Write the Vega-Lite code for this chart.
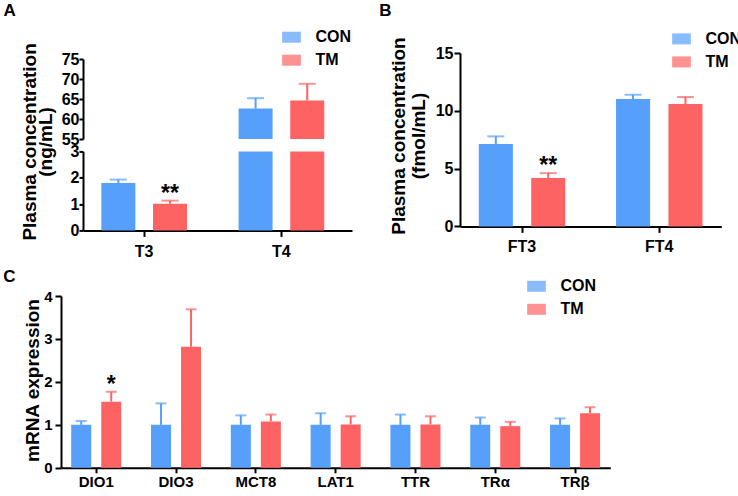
{
  "$schema": "https://vega.github.io/schema/vega-lite/v6.json",
  "background": "white",
  "padding": {"left": 3, "top": 1, "right": 0, "bottom": 0},
  "datasets": {
    "a": [
      {"item": "T3", "group": "CON", "value": 1.80, "err": 1.93},
      {"item": "T3", "group": "TM", "value": 1.01, "err": 1.13, "sig": "**"},
      {"item": "T4", "group": "CON", "value": 62.6, "err": 65.2},
      {"item": "T4", "group": "TM", "value": 64.6, "err": 68.8}
    ],
    "b": [
      {"item": "FT3", "group": "CON", "value": 7.13, "err": 7.79},
      {"item": "FT3", "group": "TM", "value": 4.19, "err": 4.61, "sig": "**"},
      {"item": "FT4", "group": "CON", "value": 11.02, "err": 11.39},
      {"item": "FT4", "group": "TM", "value": 10.59, "err": 11.19}
    ],
    "c": [
      {"item": "DIO1", "group": "CON", "value": 1.00, "err": 1.09},
      {"item": "DIO1", "group": "TM", "value": 1.54, "err": 1.77, "sig": "*"},
      {"item": "DIO3", "group": "CON", "value": 1.00, "err": 1.50},
      {"item": "DIO3", "group": "TM", "value": 2.82, "err": 3.69},
      {"item": "MCT8", "group": "CON", "value": 1.00, "err": 1.22},
      {"item": "MCT8", "group": "TM", "value": 1.08, "err": 1.24},
      {"item": "LAT1", "group": "CON", "value": 1.00, "err": 1.27},
      {"item": "LAT1", "group": "TM", "value": 1.01, "err": 1.20},
      {"item": "TTR", "group": "CON", "value": 1.00, "err": 1.24},
      {"item": "TTR", "group": "TM", "value": 1.01, "err": 1.20},
      {"item": "TRα", "group": "CON", "value": 1.00, "err": 1.17},
      {"item": "TRα", "group": "TM", "value": 0.97, "err": 1.07},
      {"item": "TRβ", "group": "CON", "value": 1.00, "err": 1.15},
      {"item": "TRβ", "group": "TM", "value": 1.27, "err": 1.41}
    ]
  },
  "resolve": {"scale": {"xOffset": "independent"}, "legend": {"color": "independent"}},
  "spacing": 8,
  "vconcat": [
    {
      "resolve": {"scale": {"xOffset": "independent"}, "legend": {"color": "independent"}},
      "spacing": 27,
      "hconcat": [
        {
          "resolve": {"scale": {"xOffset": "independent"}, "legend": {"color": "independent"}},
          "bounds": "flush",
          "spacing": 21,
          "hconcat": [
            {"width": 1, "height": 1, "data": {"values": []}, "mark": "point"},
            {
              "resolve": {"scale": {"xOffset": "independent"}, "legend": {"color": "independent"}},
              "bounds": "flush",
              "spacing": 5,
              "vconcat": [
                {"width": 1, "height": 1, "data": {"values": []}, "mark": "point"},
                {
                  "resolve": {"scale": {"xOffset": "independent"}, "legend": {"color": "independent"}},
                  "bounds": "flush",
                  "spacing": 12.4,
                  "vconcat": [
                    {
                      "data": {"name": "a"},
                      "width": 269,
                      "height": 80,
                      "title": {"text": "A", "dx": -79.4, "offset": 9.3},
                      "encoding": {
                        "x": {"field": "item", "type": "nominal", "sort": null, "scale": {"domain": ["T3", "T4"], "paddingInner": 0.376, "paddingOuter": 0.168, "align": 0.398}, "axis": null},
                        "xOffset": {"field": "group", "type": "nominal", "scale": {"domain": ["CON", "TM"], "paddingInner": 0.342, "paddingOuter": 0}},
                        "color": {"field": "group", "type": "nominal", "scale": {"domain": ["CON", "TM"], "range": ["#569ffb", "#fe6363"]}, "legend": {"title": null, "orient": "none", "legendX": 200.5, "legendY": -29.8}}
                      },
                      "layer": [
                        {
                          "transform": [{"filter": "datum.item == 'T4'"}],
                          "mark": {"type": "bar"},
                          "encoding": {
                            "y": {"field": "value", "type": "quantitative", "scale": {"domain": [55, 75], "nice": false, "zero": false}, "axis": {"values": [55, 60, 65, 70, 75], "tickCount": 5, "title": null, "tickSize": 4, "labelPadding": 0, "labelFontSize": 16}},
                            "y2": {"datum": 55}
                          }
                        },
                        {
                          "transform": [{"filter": "datum.item == 'T4'"}],
                          "mark": {"type": "rule", "strokeWidth": 2},
                          "encoding": {"y": {"field": "value", "type": "quantitative"}, "y2": {"field": "err"}}
                        },
                        {
                          "transform": [{"filter": "datum.item == 'T4'"}],
                          "mark": {"type": "tick", "thickness": 2, "size": 17},
                          "encoding": {"y": {"field": "err", "type": "quantitative"}}
                        }
                      ]
                    },
                    {
                      "data": {"name": "a"},
                      "width": 269,
                      "height": 79,
                      "encoding": {
                        "x": {"field": "item", "type": "nominal", "sort": null, "scale": {"domain": ["T3", "T4"], "paddingInner": 0.376, "paddingOuter": 0.168, "align": 0.398}, "axis": {"title": null, "tickSize": 6, "labelPadding": 7, "labelFontSize": 16}},
                        "xOffset": {"field": "group", "type": "nominal", "scale": {"domain": ["CON", "TM"], "paddingInner": 0.342, "paddingOuter": 0}},
                        "color": {"field": "group", "type": "nominal", "scale": {"domain": ["CON", "TM"], "range": ["#569ffb", "#fe6363"]}, "legend": null}
                      },
                      "layer": [
                        {
                          "mark": {"type": "bar"},
                          "encoding": {
                            "y": {"field": "value", "type": "quantitative", "scale": {"domain": [0, 3], "nice": false, "clamp": true}, "axis": {"values": [0, 1, 2, 3], "tickCount": 4, "title": ["Plasma concentration", "(ng/mL)"], "titleX": -43.8, "titleY": -10, "titleLineHeight": 16.7, "tickSize": 4, "labelPadding": 0, "labelFontSize": 16}}
                          }
                        },
                        {
                          "transform": [{"filter": "datum.item == 'T3'"}],
                          "mark": {"type": "rule", "strokeWidth": 2},
                          "encoding": {"y": {"field": "value", "type": "quantitative"}, "y2": {"field": "err"}}
                        },
                        {
                          "transform": [{"filter": "datum.item == 'T3'"}],
                          "mark": {"type": "tick", "thickness": 2, "size": 17},
                          "encoding": {"y": {"field": "err", "type": "quantitative"}}
                        },
                        {
                          "transform": [{"filter": "datum.sig"}],
                          "mark": {"type": "text", "fontSize": 23, "fontWeight": "bold", "baseline": "alphabetic"},
                          "encoding": {"y": {"field": "err", "type": "quantitative"}, "text": {"field": "sig"}, "color": {"value": "black"}}
                        }
                      ]
                    }
                  ]
                }
              ]
            }
          ]
        },
        {
          "data": {"name": "b"},
          "width": 261.3,
          "height": 173.4,
          "title": {"text": "B", "dx": -80.7, "offset": 11},
          "encoding": {
            "x": {"field": "item", "type": "nominal", "sort": null, "scale": {"domain": ["FT3", "FT4"], "paddingInner": 0.37, "paddingOuter": 0.137, "align": 0.5}, "axis": {"title": null, "tickSize": 6, "labelPadding": 6, "labelFontSize": 16}},
            "xOffset": {"field": "group", "type": "nominal", "scale": {"domain": ["CON", "TM"], "paddingInner": 0.35, "paddingOuter": 0}},
            "color": {"field": "group", "type": "nominal", "scale": {"domain": ["CON", "TM"], "range": ["#569ffb", "#fe6363"]}, "legend": {"title": null, "orient": "none", "legendX": 213.5, "legendY": -22.1}}
          },
          "layer": [
            {
              "mark": {"type": "bar"},
              "encoding": {
                "y": {"field": "value", "type": "quantitative", "scale": {"domain": [0, 15], "nice": false}, "axis": {"values": [0, 5, 10, 15], "tickCount": 4, "title": ["Plasma concentration", "(fmol/mL)"], "titleX": -51.6, "titleY": 82.5, "titleLineHeight": 20, "tickSize": 6, "labelPadding": 1, "labelFontSize": 16}}
              }
            },
            {
              "mark": {"type": "rule", "strokeWidth": 2},
              "encoding": {"y": {"field": "value", "type": "quantitative"}, "y2": {"field": "err"}}
            },
            {
              "mark": {"type": "tick", "thickness": 2, "size": 17},
              "encoding": {"y": {"field": "err", "type": "quantitative"}}
            },
            {
              "transform": [{"filter": "datum.sig"}],
              "mark": {"type": "text", "fontSize": 23, "fontWeight": "bold", "baseline": "alphabetic"},
              "encoding": {"y": {"field": "err", "type": "quantitative"}, "text": {"field": "sig"}, "color": {"value": "black"}}
            }
          ]
        }
      ]
    },
    {
      "data": {"name": "c"},
      "width": 549.3,
      "height": 171.8,
      "title": {"text": "C", "dx": -57.7, "offset": -8},
      "encoding": {
        "x": {"field": "item", "type": "nominal", "sort": null, "scale": {"domain": ["DIO1", "DIO3", "MCT8", "LAT1", "TTR", "TRα", "TRβ"], "paddingInner": 0.373, "paddingOuter": 0.128, "align": 0.5}, "axis": {"title": null, "tickSize": 5, "labelPadding": 2, "labelFontSize": 15}},
        "xOffset": {"field": "group", "type": "nominal", "scale": {"domain": ["CON", "TM"], "paddingInner": 0.333, "paddingOuter": 0}},
        "color": {"field": "group", "type": "nominal", "scale": {"domain": ["CON", "TM"], "range": ["#569ffb", "#fe6363"]}, "legend": {"title": null, "orient": "none", "legendX": 467.5, "legendY": -17.7}}
      },
      "layer": [
        {
          "mark": {"type": "bar"},
          "encoding": {
            "y": {"field": "value", "type": "quantitative", "scale": {"domain": [0, 4], "nice": false}, "axis": {"values": [0, 1, 2, 3, 4], "tickCount": 5, "title": "mRNA expression", "titleX": -18.6, "titleY": 84, "tickSize": 6, "labelPadding": 3}}
          }
        },
        {
          "mark": {"type": "rule", "strokeWidth": 2},
          "encoding": {"y": {"field": "value", "type": "quantitative"}, "y2": {"field": "err"}}
        },
        {
          "mark": {"type": "tick", "thickness": 2, "size": 11},
          "encoding": {"y": {"field": "err", "type": "quantitative"}}
        },
        {
          "transform": [{"filter": "datum.sig"}],
          "mark": {"type": "text", "fontSize": 23, "fontWeight": "bold", "baseline": "alphabetic"},
          "encoding": {"y": {"field": "err", "type": "quantitative"}, "text": {"field": "sig"}, "color": {"value": "black"}}
        }
      ]
    }
  ],
  "config": {
    "font": "Liberation Sans",
    "view": {"stroke": null},
    "axis": {"domainColor": "black", "domainWidth": 2, "tickColor": "black", "tickWidth": 2, "labelColor": "black", "labelFontSize": 15, "labelFontWeight": "bold", "labelFont": "Liberation Sans", "labelOverlap": false, "titleColor": "black", "titleFontSize": 19, "titleFontWeight": "bold", "titleFont": "Liberation Sans", "grid": false},
    "axisX": {"labelAngle": 0},
    "legend": {"labelFontSize": 16, "labelFontWeight": "bold", "labelColor": "black", "labelFont": "Liberation Sans", "symbolType": "M-1.7,-1H1.7V1H-1.7Z", "symbolSize": 121, "symbolStrokeWidth": 0, "labelOffset": 16, "rowPadding": 7, "padding": 0},
    "title": {"font": "Liberation Sans", "fontSize": 17, "fontWeight": "bold", "color": "black", "anchor": "start", "frame": "group"}
  }
}
